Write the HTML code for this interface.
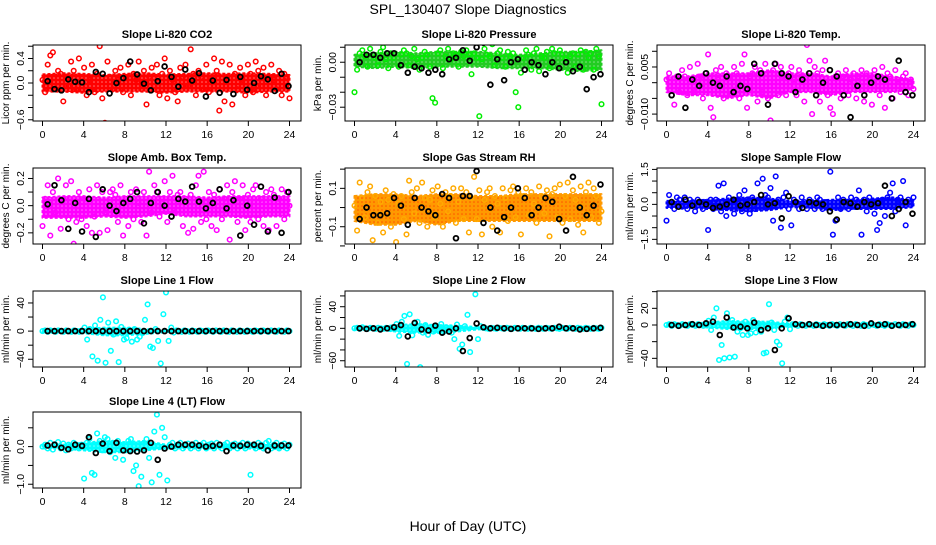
<!DOCTYPE html>
<html><head><meta charset="utf-8"><style>
html,body{margin:0;padding:0;background:#fff;}
svg text{font-family:"Liberation Sans",Arial,sans-serif;}
</style></head><body>
<svg id="chart" width="936" height="540" viewBox="0 0 936 540" xmlns="http://www.w3.org/2000/svg">
<rect width="936" height="540" fill="#fff"/>
<text x="468" y="14" text-anchor="middle" font-size="14">SPL_130407  Slope Diagnostics</text>
<text x="468" y="531" text-anchor="middle" font-size="14">Hour of Day (UTC)</text>
</svg>
<script>
// x tick labels
const xTicks = [0,4,8,12,16,20,24];
// panel titles
const titles = ["Slope Li-820 CO2","Slope Li-820 Pressure","Slope Li-820 Temp.","Slope Amb. Box Temp.","Slope Gas Stream RH","Slope Sample Flow","Slope Line 1 Flow","Slope Line 2 Flow","Slope Line 3 Flow","Slope Line 4 (LT) Flow"];
const yTitles = ["Licor ppm per min.","kPa per min.","degrees C per min.","degrees C per min.","percent per min.","ml/min per min.","ml/min per min.","ml/min per min.","ml/min per min.","ml/min per min."];
const yLims = [[-0.62,0.62],[-0.0392,0.0115],[-0.0122,0.012],[-0.282,0.277],[-0.19,0.206],[-1.7,1.56],[-51,57],[-71.6,69.1],[-50.4,40.8],[-1.10,0.92]];
const yTickVals = [[-0.6,-0.4,-0.2,0,0.2,0.4,0.6],[-0.03,-0.02,-0.01,0,0.01],[-0.01,-0.005,0,0.005,0.01],[-0.2,-0.1,0,0.1,0.2],[-0.2,-0.1,0,0.1,0.2],[-1.5,-1,-0.5,0,0.5,1,1.5],[-40,-20,0,20,40],[-60,-40,-20,0,20,40,60],[-40,-20,0,20,40],[-1,-0.5,0,0.5]];
const yTickLabels = [{"0.4":"0.4","0":"0.0","-0.6":"−0.6"},{"0":"0.00","-0.03":"−0.03"},{"0.005":"0.005","-0.01":"−0.010"},{"0.2":"0.2","0":"0.0","-0.2":"−0.2"},{"0.1":"0.1","-0.1":"−0.1"},{"1.5":"1.5","0":"0.0","-1.5":"−1.5"},{"40":"40","0":"0","-40":"−40"},{"40":"40","0":"0","-60":"−60"},{"20":"20","0":"0","-40":"−40"}, {"0":"0.0","-1":"−1.0"}];
const colors = ["#ff0000","#00ee00","#ff00ff","#ff00ff","#ffaa00","#0000ff","#00ffff","#00ffff","#00ffff","#00ffff"];
const bandColors = ["#ff0000","#22cc22","#ff00ff","#ff00ff","#ff9900","#0000ff","#00ffff","#00ffff","#00ffff","#00ffff"];
// band envelopes (every 2 h, 13 values)
const bandUp = [
[0.14,0.16,0.15,0.13,0.15,0.16,0.14,0.15,0.16,0.15,0.16,0.15,0.13],
[0.005,0.006,0.007,0.006,0.007,0.007,0.007,0.006,0.005,0.006,0.007,0.007,0.008],
[0.002,0.002,0.003,0.003,0.003,0.004,0.003,0.003,0.002,0.003,0.003,0.002,0.001],
[0.06,0.07,0.07,0.06,0.07,0.07,0.07,0.07,0.06,0.07,0.07,0.07,0.07],
[0.06,0.07,0.07,0.06,0.07,0.07,0.06,0.06,0.07,0.07,0.07,0.07,0.07],
[0.15,0.15,0.2,0.25,0.3,0.25,0.15,0.15,0.2,0.2,0.25,0.3,0.15],
[1.5,1.5,3,5,5,3,1.5,1.5,1.5,1.5,1.5,1.5,1.5],
[2,2,6,8,6,5,2,2,2,2,2,2,2],
[1.5,1.5,3,5,4,4,1.5,1.5,1.5,1.5,1.5,1.5,1.5],
[0.05,0.05,0.1,0.15,0.12,0.15,0.05,0.05,0.05,0.05,0.05,0.07,0.05]];
const bandLo = [
[-0.14,-0.14,-0.16,-0.14,-0.14,-0.14,-0.16,-0.14,-0.14,-0.14,-0.16,-0.14,-0.14],
[-0.003,-0.004,-0.003,-0.004,-0.003,-0.003,-0.003,-0.004,-0.004,-0.004,-0.005,-0.006,-0.005],
[-0.003,-0.004,-0.004,-0.005,-0.004,-0.005,-0.003,-0.003,-0.004,-0.003,-0.003,-0.003,-0.002],
[-0.09,-0.09,-0.09,-0.08,-0.09,-0.08,-0.06,-0.08,-0.08,-0.08,-0.09,-0.08,-0.08],
[-0.07,-0.09,-0.09,-0.07,-0.09,-0.07,-0.07,-0.07,-0.07,-0.07,-0.07,-0.07,-0.07],
[-0.15,-0.15,-0.2,-0.25,-0.3,-0.25,-0.12,-0.15,-0.25,-0.2,-0.2,-0.2,-0.12],
[-1.5,-1.5,-3,-6,-6,-4,-1.5,-1.5,-1.5,-1.5,-1.5,-1.5,-1.5],
[-2,-2,-6,-8,-8,-6,-2,-2,-2,-2,-2,-2,-2],
[-1.5,-1.5,-3,-5,-5,-4,-1.5,-1.5,-1.5,-1.5,-1.5,-1.5,-1.5],
[-0.05,-0.05,-0.1,-0.15,-0.15,-0.1,-0.05,-0.05,-0.05,-0.05,-0.05,-0.07,-0.05]];
// colored scatter values (evenly spread over 0-24 h)
const colVals = [
[0.05,-0.15,0.3,0.45,0.5,-0.1,0.2,0.15,-0.3,0.1,-0.05,0.35,0.2,-0.1,0.4,0.1,0.25,-0.2,0.05,0.3,-0.15,0.15,0.6,-0.25,-0.65,0.35,0.1,-0.1,0.2,0.05,0.25,-0.15,0.1,0.3,-0.2,0.15,0.05,0.35,-0.1,0.2,-0.35,0.1,0.25,-0.05,0.3,-0.2,0.15,0.4,-0.25,0.2,0.05,-0.15,-0.3,0.25,0.1,0.3,-0.05,0.55,0.15,-0.2,0.2,0.1,-0.1,0.3,-0.15,0.05,0.4,0.2,-0.45,0.35,-0.3,0.1,0.3,-0.35,0.15,-0.1,0.25,0.05,-0.2,0.3,0.15,-0.15,0.35,0.2,-0.05,0.25,-0.2,0.1,0.3,0.05,-0.1,0.2,-0.2,0.15,0.1,-0.25],
[-0.02,-0.005,0.006,0.008,0.004,-0.003,0.009,0.005,0.003,-0.002,0.007,0.01,0.002,-0.004,0.006,0.003,-0.045,-0.003,0.005,0.008,0.006,-0.002,0.004,0.009,0.002,-0.005,0.003,0.007,0.005,-0.003,-0.024,-0.027,0.006,0.008,-0.004,0.004,0.009,0.002,0.006,0.005,-0.003,0.007,0.004,0.008,0.005,-0.008,0.006,0.003,-0.036,0.002,0.009,0.005,0.004,0.012,-0.002,0.006,0.008,0.003,-0.003,0.007,0.004,0.006,-0.02,-0.03,-0.007,0.003,0.008,0.005,-0.005,0.006,0.009,-0.006,0.004,0.003,0.007,-0.004,0.009,0.006,-0.044,0.008,0.005,0.002,-0.007,0.004,0.006,-0.003,0.005,0.008,-0.005,0.007,0.003,0.006,-0.005,0.009,0.004,-0.028],
[0.001,0.003,-0.004,-0.007,0.002,-0.003,0.004,0.002,-0.004,0.005,0.001,-0.003,0.006,0.002,-0.005,0.003,0.009,-0.008,-0.011,0.004,0.001,0.005,-0.005,0.003,0.002,-0.004,0.005,0.003,-0.005,0.006,0.009,-0.008,0.002,0.003,0.005,-0.006,0.004,-0.003,0.006,-0.005,-0.012,0.004,0.006,-0.004,0.005,0.002,-0.004,0.003,0.005,0.001,-0.004,0.004,0.002,-0.006,0.012,0.007,-0.010,0.005,0.003,-0.006,0.004,0.007,-0.004,-0.008,-0.010,0.002,0.003,-0.005,0.002,0.004,-0.004,0.001,0.003,-0.005,0.002,0.004,-0.006,0.003,0.001,-0.007,0.004,0.002,-0.004,0.005,-0.008,0.003,0.002,-0.005,0.004,0.001,-0.003,0.002,0.003,-0.004,0.001,-0.002],
[-0.15,0.05,0.15,-0.22,0.1,-0.05,0.2,-0.17,0.05,0.15,-0.1,0.18,-0.28,-0.12,0.1,-0.1,0.05,-0.15,0.12,-0.2,-0.08,0.15,-0.2,0.1,-0.05,-0.18,0.1,0.12,0.08,-0.12,0.15,-0.22,0.05,-0.15,0.1,-0.1,0.12,0.02,-0.12,0.1,-0.22,0.25,-0.05,0.15,0.1,-0.08,0.05,0.18,-0.12,0.1,0.22,-0.05,0.08,0.1,-0.15,0.05,-0.2,0.08,-0.17,0.15,0.22,-0.12,0.25,-0.1,0.1,-0.15,0.08,-0.18,0.12,-0.1,0.05,0.15,-0.25,0.1,0.18,-0.12,0.05,0.15,-0.18,0.08,-0.12,0.12,0.15,-0.1,0.05,-0.15,0.1,-0.18,0.12,0.08,-0.15,0.05,0.12,-0.1,0.1,0.0],
[0.01,-0.12,0.13,0.05,-0.05,0.08,0.11,-0.17,0.06,-0.08,0.03,-0.13,0.09,0.04,-0.1,0.07,-0.18,0.02,0.06,-0.06,-0.14,0.14,0.08,-0.03,0.1,-0.08,0.13,0.05,-0.1,0.04,0.09,-0.05,0.11,0.02,-0.1,0.08,-0.02,0.06,0.1,-0.08,0.03,0.1,-0.06,0.08,-0.13,0.05,0.16,-0.06,0.09,-0.14,0.04,0.08,0.1,-0.1,0.06,0.02,-0.13,0.1,0.05,-0.07,0.09,0.11,-0.05,0.08,-0.14,0.06,0.1,-0.04,0.08,0.02,-0.08,0.11,0.06,-0.03,0.09,-0.15,0.07,0.1,-0.05,0.12,-0.08,0.06,0.13,-0.06,0.09,0.04,-0.09,0.11,-0.13,0.08,0.13,-0.05,0.1,0.06,-0.08,-0.02],
[-0.7,0.4,0.1,-0.2,0.3,0.2,-0.1,0.3,-0.2,0.2,0.1,-0.3,0.2,0.1,-0.2,0.1,-1.1,0.2,-0.2,0.2,0.8,-0.3,0.9,-0.5,0.3,0.1,-0.4,0.2,0.4,-0.3,0.6,0.2,-0.4,0.3,-0.2,0.9,-1.9,1.1,0.4,0.3,0.7,-0.7,1.2,0.2,-1.0,0.3,0.5,-0.2,-0.9,0.2,0.1,-0.2,0.3,0.1,-0.2,0.2,0.1,-0.2,0.3,0.2,-0.2,0.1,1.9,1.4,-1.3,-0.7,0.3,-0.2,0.2,0.1,-0.2,0.3,-0.1,0.2,0.6,-1.3,0.2,-0.3,0.3,0.1,-0.4,-1.1,-0.8,0.2,-0.5,0.3,0.5,0.9,-0.3,0.2,0.3,1.0,-0.9,0.2,0.1,0.3],
[0,1,-1,1,0,-1,1,0,-1,1,0,-1,1,0,-1,1,5,-12,3,-36,8,-42,16,48,-45,12,-28,-5,14,-44,6,-12,-10,2,-15,3,-12,-8,-3,16,38,-22,-24,3,-14,-46,24,55,-14,5,-2,1,0,-1,1,0,-1,1,0,-1,1,0,-1,1,0,-1,1,0,-1,1,0,-1,1,0,-1,1,0,-1,1,0,-1,1,0,-1,1,0,-1,1,0,-1,1,0,-1,1,0],
[0,1,-1,2,0,-1,1,0,-1,1,0,-1,1,0,-1,2,8,-14,12,23,-66,26,-13,9,12,-72,-8,6,-12,2,-6,3,-5,8,-6,2,-2,-8,-20,7,-38,-30,4,25,-44,-88,63,-20,4,1,0,-1,1,0,-1,1,0,-1,1,0,-1,1,0,-1,1,0,-1,1,0,-1,1,0,-1,1,0,-1,1,0,-1,1,0,-1,1,0,-1,1,0,-1,1,0,-1,1,0,-1,1],
[0,1,-1,1,0,-1,1,0,-1,1,0,-1,1,0,-1,1,5,-6,9,20,-42,-24,-40,14,-39,6,-38,-8,-4,-12,4,-12,-10,6,-9,2,-8,-34,-33,25,3,-6,-20,-24,-46,4,9,-5,1,0,-1,1,0,-1,1,0,-1,1,0,-1,1,0,-1,1,0,-1,1,0,-1,1,0,-1,1,0,-1,1,0,-1,1,0,-1,1,0,-1,1,0,-1,1,0,-1,1,0,-1,1,0],
[0,0.05,-0.05,0.1,-0.08,0.05,0.12,-0.05,0.08,-0.1,0.05,-0.05,0.1,0.05,-0.05,0.05,-0.85,0.1,0.2,-0.7,-0.75,0.35,0.15,-0.1,0.25,0.2,-0.15,0.1,-0.3,0.15,0.05,-0.35,-0.1,0.15,0.2,-0.65,-0.5,-1.05,-0.8,0.1,0.2,-0.3,-0.95,0.4,0.85,-0.75,0.5,0.25,-0.9,0.05,0.1,-0.05,0.05,0.1,-0.05,0.05,0.08,-0.05,0.05,0.1,-0.05,0.05,0.1,-0.05,0.05,0.08,-0.05,0.1,0.05,-0.05,0.05,0.1,-0.05,0.05,0.08,-0.05,0.05,0.1,-0.05,0.08,-0.75,0.05,-0.05,0.1,0.05,-0.05,0.1,0.15,-0.05,0.05,0.1,-0.05,0.05,0.08,-0.05,0.05]];
// black scatter values (36 per panel)
const blkVals = [
[0.03,-0.1,-0.12,0.06,0.02,0.01,-0.15,0.18,0.15,-0.17,0.0,0.08,0.35,0.14,-0.01,-0.12,0.03,0.27,0.1,-0.06,0.22,0.04,0.16,-0.22,0.04,-0.16,0.05,-0.18,0.1,-0.11,0.0,0.11,0.06,-0.13,0.15,-0.05],
[0.0,0.005,0.005,0.003,0.006,0.006,-0.002,-0.007,-0.003,-0.004,-0.007,-0.005,-0.008,0.002,0.003,0.008,0.001,0.01,0.013,-0.015,0.002,-0.012,0.0,0.002,-0.005,0.0,-0.002,-0.008,0.0,-0.004,0.0,-0.006,-0.003,-0.018,-0.01,-0.008],
[-0.004,0.002,-0.008,0.001,-0.001,0.003,0.0,-0.001,0.002,-0.003,-0.001,-0.002,0.006,0.003,-0.007,0.006,0.003,0.002,-0.003,0.001,0.003,-0.004,0.0,0.004,0.002,-0.004,-0.011,-0.001,-0.004,0.0,0.002,0.001,-0.005,0.007,-0.003,-0.004],
[0.01,0.15,0.04,-0.17,0.02,-0.19,0.05,-0.23,0.12,0.0,-0.04,0.02,0.05,0.1,-0.13,0.02,0.1,0.0,-0.08,0.05,0.03,0.14,0.03,-0.02,0.02,0.12,-0.02,0.04,-0.22,0.0,-0.14,0.14,-0.19,0.06,-0.2,0.1],
[-0.06,0.0,-0.04,-0.04,-0.03,0.05,0.01,-0.09,0.05,0.0,-0.02,-0.04,0.07,0.05,-0.16,0.06,0.06,0.19,-0.08,0.0,-0.12,-0.05,0.0,0.1,0.05,-0.04,0.0,0.05,0.03,-0.06,-0.12,0.16,0.0,-0.04,0.01,0.12],
[0.1,-0.1,0.2,-0.05,0.1,0.0,-0.15,-0.1,0.0,0.2,-0.05,0.0,0.1,0.4,0.0,0.05,-0.6,0.35,0.1,-0.15,0.1,0.05,0.0,-0.3,-0.65,0.1,0.05,-0.1,0.1,0.0,0.05,0.8,-0.5,-0.2,0.1,-0.4],
[0,0,0,0,0,0,0,0,0,0,0,0,0,0,0,0,0,0,0,0,0,0,0,0,0,0,0,0,0,0,0,0,0,0,0,0],
[0,-1,0,-2,0,2,6,-15,10,-2,-4,5,-8,-6,0,-42,-18,9,2,0,1,0,-1,0,0,0,-1,0,0,3,0,0,-2,-1,0,1],
[0,-1,0,1,0,2,4,-12,9,-3,-2,-4,3,-6,-4,-30,-4,8,1,0,1,0,-1,0,0,0,1,0,-1,2,0,1,-1,0,0,1],
[0.03,0.05,-0.03,-0.07,0.05,0.02,0.25,-0.17,0.08,-0.12,0.1,-0.1,-0.12,-0.13,-0.1,0.1,-0.35,-0.05,0.0,0.05,0.05,0.05,0.03,0.0,0.02,0.05,-0.12,0.03,0.02,0.05,0.05,0.02,-0.1,0.03,0.03,0.03]];

const NS = "http://www.w3.org/2000/svg";
const svg = document.getElementById('chart');
const colLefts = [33,345,657], rowTops = [45,168,291,412];
const W = 268, H = 76;
function mk(tag, attrs, parent){const e=document.createElementNS(NS,tag);for(const k in attrs)e.setAttribute(k,attrs[k]);(parent||svg).appendChild(e);return e;}
function fmtKey(v){return String(+v.toFixed(6));}
const defs = mk('defs', {});

titles.forEach((t, p) => {
  const L = colLefts[p%3], T = rowTops[Math.floor(p/3)];
  const [y0, y1] = yLims[p];
  const xs = h => L + 9.5 + h/24*247;
  const ys = v => T + H - (v - y0)/(y1 - y0)*H;
  // texture pattern for dense band
  const pat = mk('pattern', {id: 'pat' + p, width: 4, height: 4, patternUnits: 'userSpaceOnUse'}, defs);
  mk('rect', {width: 4, height: 4, fill: bandColors[p]}, pat);
  mk('circle', {cx: 2, cy: 2, r: 0.8, fill: p === 4 ? '#ff2200' : '#ffffff', 'fill-opacity': p === 4 ? 0.6 : 0.45}, pat);
  const g = mk('g', {});
  
  
  const clipId = 'clip' + p;
  const cp = mk('clipPath', {id: clipId}, g);
  mk('rect', {x: L, y: T, width: W, height: H}, cp);
  const plot = mk('g', {'clip-path': 'url(#' + clipId + ')'}, g);
  const up = bandUp[p], lo = bandLo[p];
  let d = '';
  up.forEach((v,i)=>{d += (i?'L':'M') + xs(i*24/(up.length-1)) + ' ' + ys(v);});
  for (let i = lo.length-1; i >= 0; i--) d += 'L' + xs(i*24/(lo.length-1)) + ' ' + ys(lo[i]);
  const band = mk('path', {d: d + 'Z', fill: 'url(#pat' + p + ')', stroke: bandColors[p], 'stroke-width': 2, 'stroke-dasharray': '3 2', 'stroke-linejoin': 'round'}, plot);
  
  
  const cv = colVals[p];
  cv.forEach((v,i)=>{
    const c = mk('circle', {cx: xs(i*24/(cv.length-1)), cy: ys(v), r: 2.3, fill: 'none', stroke: colors[p], 'stroke-width': 1.5}, plot);
    
    
  });
  const bv = blkVals[p];
  bv.forEach((v,i)=>{
    const c = mk('circle', {cx: xs(0.5 + i*23.4/(bv.length-1)), cy: ys(v), r: 2.4, fill: 'none', stroke: '#000', 'stroke-width': 1.8}, plot);
    
    
  });
  const box = mk('rect', {x: L, y: T, width: W, height: H, fill: 'none', stroke: '#000', 'stroke-width': 1}, g);
  
  
  const tt = mk('text', {x: L + W/2, y: T - 7, 'text-anchor': 'middle', 'font-size': 11, 'font-weight': 'bold'}, g);
  tt.textContent = t;
  
  
  xTicks.forEach(h=>{
    mk('line', {x1: xs(h), x2: xs(h), y1: T+H, y2: T+H+5, stroke: '#000'}, g);
    const tx = mk('text', {x: xs(h), y: T+H+17, 'text-anchor': 'middle', 'font-size': 10.5}, g);
    tx.textContent = h;
    
    
  });
  yTickVals[p].forEach(v=>{
    const y = ys(v);
    if (y < T-2 || y > T+H+2) return;
    mk('line', {x1: L-5, x2: L, y1: y, y2: y, stroke: '#000'}, g);
    const lab = yTickLabels[p][fmtKey(v)];
    if (lab) {
      const ty = mk('text', {x: L-9, y: y, 'text-anchor': 'middle', 'font-size': 10.5, transform: 'rotate(-90 ' + (L-9) + ' ' + y + ')'}, g);
      ty.textContent = lab;
      
      
    }
  });
  const yt = mk('text', {x: L-24, y: T+H/2, 'text-anchor': 'middle', 'font-size': 10, transform: 'rotate(-90 ' + (L-24) + ' ' + (T+H/2) + ')'}, g);
  yt.textContent = yTitles[p];
  
  
});
</script>
</body></html>
